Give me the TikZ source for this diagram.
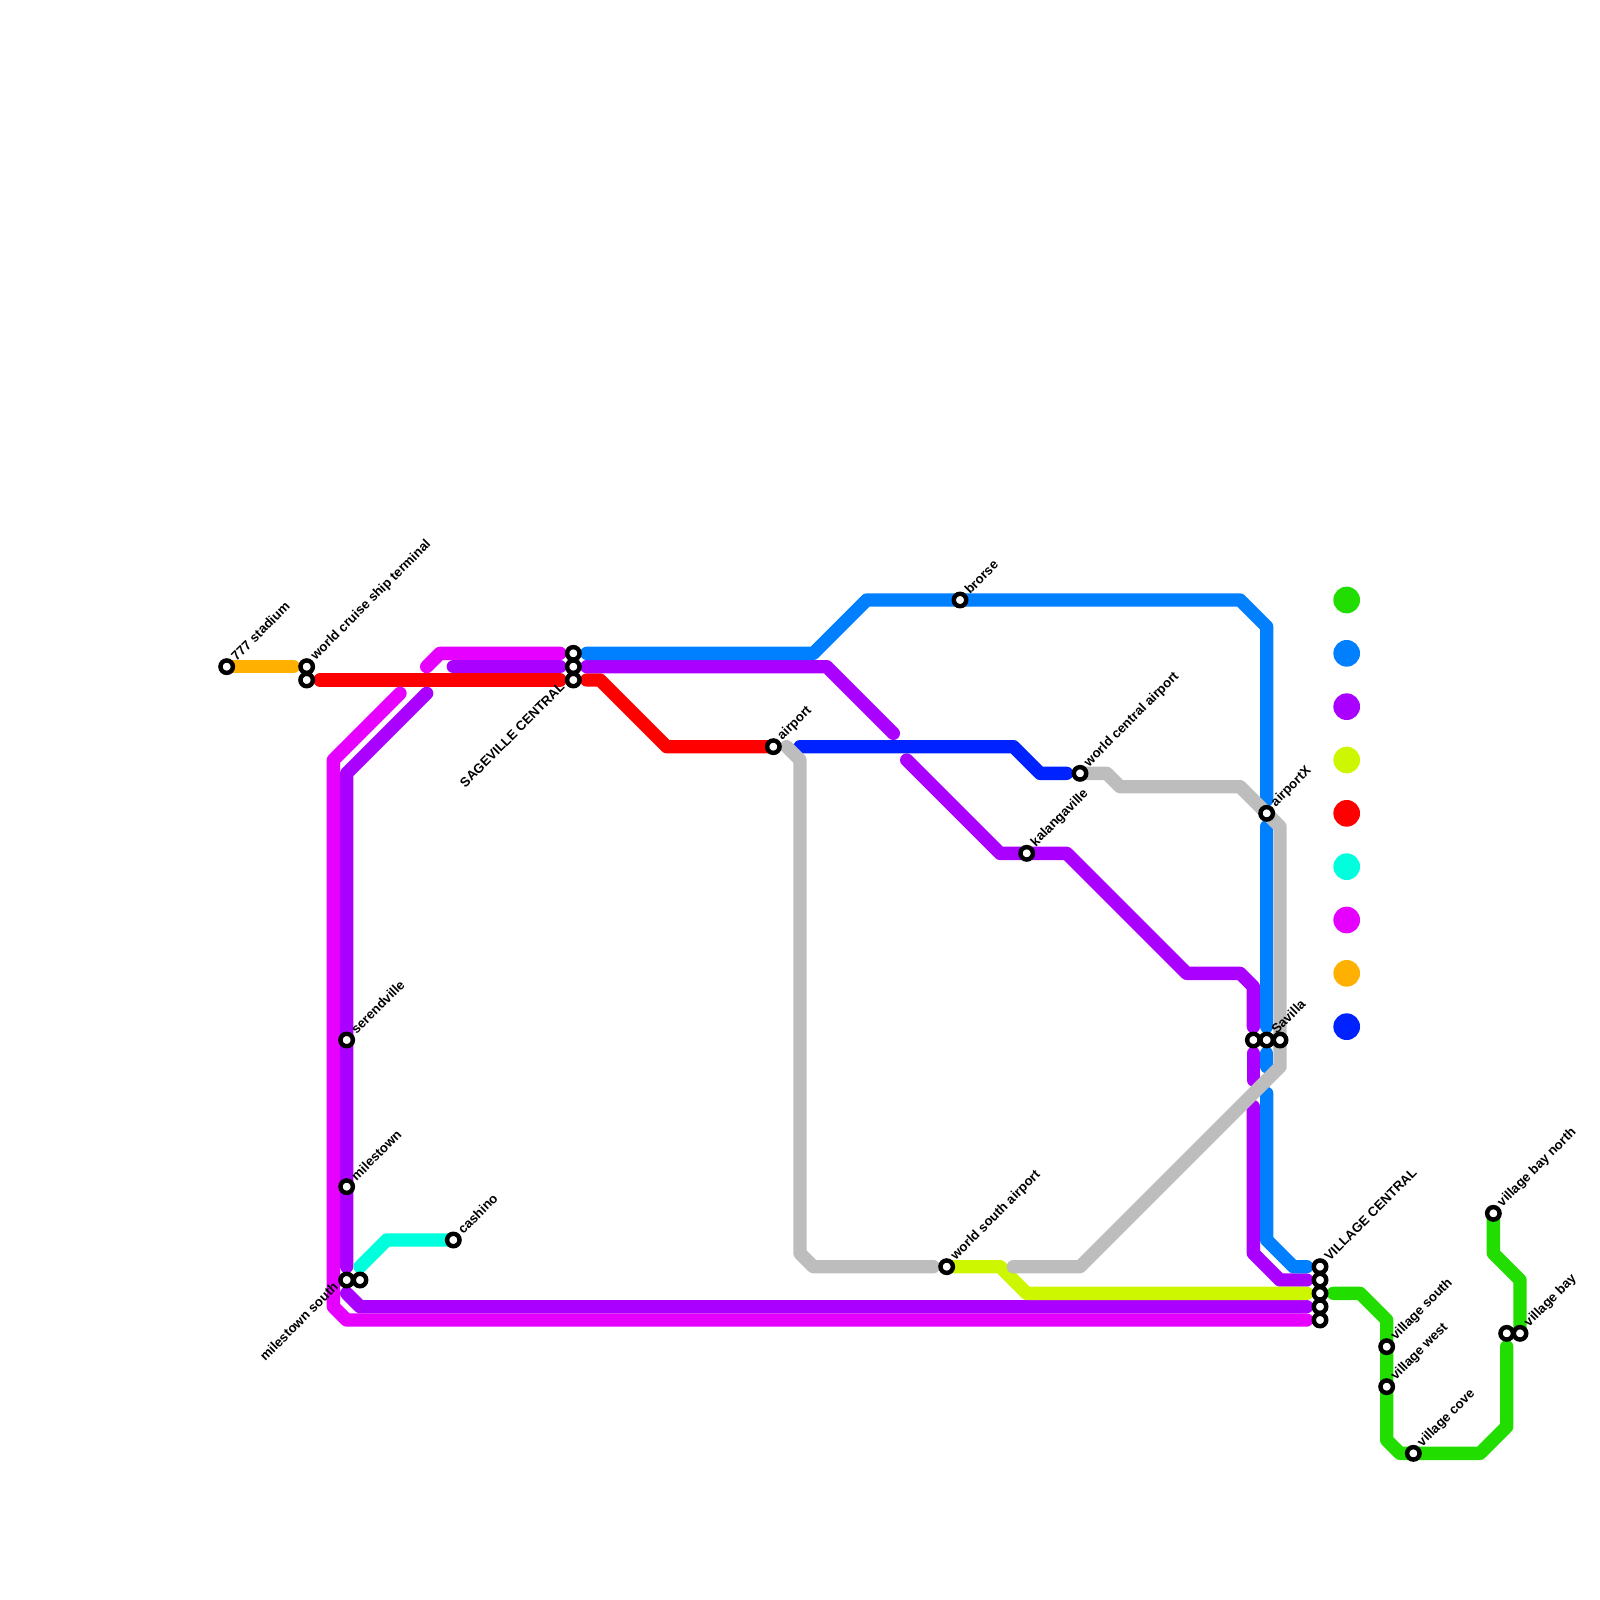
\documentclass[tikz,border=0pt]{standalone}
\usepackage{fontspec}
\setmainfont{Liberation Sans}
\usetikzlibrary{backgrounds}
\definecolor{lineGreen}{HTML}{22DD00}
\definecolor{lineAzure}{HTML}{007FFF}
\definecolor{linePurple}{HTML}{AA00FF}
\definecolor{lineLime}{HTML}{CCF700}
\definecolor{lineRed}{HTML}{FF0000}
\definecolor{lineCyan}{HTML}{00FFDD}
\definecolor{lineMagenta}{HTML}{E600FF}
\definecolor{lineOrange}{HTML}{FFB000}
\definecolor{lineBlue}{HTML}{0022FF}
\definecolor{lineGrey}{HTML}{BDBDBD}
\tikzset{
  route/.style={line width=0.15cm, line cap=round, line join=round},
  stn/.style={circle, draw=black, fill=white, line width=0.05cm, minimum size=0.14cm, inner sep=0pt},
  lbl/.style={rotate=45, anchor=west, inner sep=0pt, xshift=0.115cm, yshift=0.015cm, font=\fontsize{4.22}{5}\bfseries},
  lblleft/.style={rotate=45, anchor=east, inner sep=0pt, xshift=-0.12cm, yshift=0.05cm, font=\fontsize{4.22}{5}\bfseries},
  dot/.style={circle, minimum size=0.3cm, inner sep=0pt}
}
\begin{document}
\begin{tikzpicture}[x=0.15cm, y=-0.15cm]
    \useasboundingbox (0,0) rectangle (120,120);

    \node[stn] (stadium) at (17,50) {};
    \node[stn] (cruise) at (23,50) {};
    \node[stn] (cruiseb) at (23,51) {};
    \node[stn] (sagea) at (43,49) {};
    \node[stn] (sageb) at (43,50) {};
    \node[stn] (sagec) at (43,51) {};
    \node[stn] (airport) at (58,56) {};
    \node[stn] (brorse) at (72,45) {};
    \node[stn] (wca) at (81,58) {};
    \node[stn] (kalanga) at (77,64) {};
    \node[stn] (airportx) at (95,61) {};
    \node[stn] (savillaa) at (94,78) {};
    \node[stn] (savillab) at (95,78) {};
    \node[stn] (savillac) at (96,78) {};
    \node[stn] (serend) at (26,78) {};
    \node[stn] (milestown) at (26,89) {};
    \node[stn] (cashino) at (34,93) {};
    \node[stn] (milesa) at (26,96) {};
    \node[stn] (milesb) at (27,96) {};
    \node[stn] (wsa) at (71,95) {};
    \node[stn] (villa) at (99,95) {};
    \node[stn] (villb) at (99,96) {};
    \node[stn] (villc) at (99,97) {};
    \node[stn] (villd) at (99,98) {};
    \node[stn] (ville) at (99,99) {};
    \node[stn] (vsouth) at (104,101) {};
    \node[stn] (vwest) at (104,104) {};
    \node[stn] (vcove) at (106,109) {};
    \node[stn] (vbaynorth) at (112,91) {};
    \node[stn] (vbaya) at (113,100) {};
    \node[stn] (vbayb) at (114,100) {};

    \node[lbl] (stadiumlbl) at (stadium) {777 stadium};
    \node[lbl] (cruiselbl) at (cruise) {world cruise ship terminal};
    \node[lblleft] (sagelbl) at (sagec) {SAGEVILLE CENTRAL};
    \node[lbl] (airportlbl) at (airport) {airport};
    \node[lbl] (brorselbl) at (brorse) {brorse};
    \node[lbl] (wcalbl) at (wca) {world central airport};
    \node[lbl] (kalangalbl) at (kalanga) {kalangaville};
    \node[lbl] (airportxlbl) at (airportx) {airportX};
    \node[lbl] (savillalbl) at (savillab) {Savilla};
    \node[lbl] (serendlbl) at (serend) {serendville};
    \node[lbl] (milestownlbl) at (milestown) {milestown};
    \node[lbl] (cashinolbl) at (cashino) {cashino};
    \node[lblleft] (mileslbl) at (milesa) {milestown south};
    \node[lbl] (wsalbl) at (wsa) {world south airport};
    \node[lbl] (villlbl) at (villa) {VILLAGE CENTRAL};
    \node[lbl] (vsouthlbl) at (vsouth) {village south};
    \node[lbl] (vwestlbl) at (vwest) {village west};
    \node[lbl] (vcovelbl) at (vcove) {village cove};
    \node[lbl] (vbaynorthlbl) at (vbaynorth) {village bay north};
    \node[lbl] (vbaylbl) at (vbayb) {village bay};

    \node[dot, fill=lineGreen] (keygreen) at (101,45) {};
    \node[dot, fill=lineAzure] (keyazure) at (101,49) {};
    \node[dot, fill=linePurple] (keypurple) at (101,53) {};
    \node[dot, fill=lineLime] (keylime) at (101,57) {};
    \node[dot, fill=lineRed] (keyred) at (101,61) {};
    \node[dot, fill=lineCyan] (keycyan) at (101,65) {};
    \node[dot, fill=lineMagenta] (keymagenta) at (101,69) {};
    \node[dot, fill=lineOrange] (keyorange) at (101,73) {};
    \node[dot, fill=lineBlue] (keyblue) at (101,77) {};

    \begin{scope}[on background layer]
    \draw[route, lineOrange] (stadium.center) -- (22,50);
    \draw[route, lineRed] (24,51) -- (42,51);
    \draw[route, lineRed] (44,51) -- (45,51) -- (50,56) -- (airport.center);
    \draw[route, lineMagenta] (32,50) -- (33,49) -- (42,49);
    \draw[route, lineMagenta] (30,52) -- (25,57) -- (25,98) -- (26,99) -- (98,99);
    \draw[route, linePurple] (34,50) -- (42,50);
    \draw[route, linePurple] (32,52) -- (26,58) -- (26,95);
    \draw[route, linePurple] (26,97) -- (27,98) -- (98,98);
    \draw[route, linePurple] (44,50) -- (62,50) -- (67,55);
    \draw[route, linePurple] (68,57) -- (75,64) -- (80,64) -- (89,73) -- (93,73) -- (94,74) -- (94,77);
    \draw[route, linePurple] (94,79) -- (94,81);
    \draw[route, linePurple] (94,83) -- (94,94) -- (96,96) -- (98,96);
    \draw[route, lineCyan] (27,95) -- (29,93) -- (cashino.center);
    \draw[route, lineAzure] (44,49) -- (61,49) -- (65,45) -- (93,45) -- (95,47) -- (95,60);
    \draw[route, lineAzure] (95,62) -- (95,77);
    \draw[route, lineAzure] (95,79) -- (95,80);
    \draw[route, lineAzure] (95,82) -- (95,93) -- (97,95) -- (98,95);
    \draw[route, lineBlue] (60,56) -- (76,56) -- (78,58) -- (80,58);
    \draw[route, lineLime] (wsa.center) -- (75,95) -- (77,97) -- (98,97);
    \draw[route, lineGrey] (59,56) -- (60,57) -- (60,94) -- (61,95) -- (70,95);
    \draw[route, lineGrey] (76,95) -- (81,95) -- (96,80) -- (96,62) -- (93,59) -- (84,59) -- (83,58) -- (wca.center);
    \draw[route, lineGreen] (100,97) -- (102,97) -- (104,99) -- (104,108) -- (105,109) -- (111,109) -- (113,107) -- (113,101);
    \draw[route, lineGreen] (vbaynorth.center) -- (112,94) -- (114,96) -- (vbayb.center);
    \end{scope}
\end{tikzpicture}
\end{document}
